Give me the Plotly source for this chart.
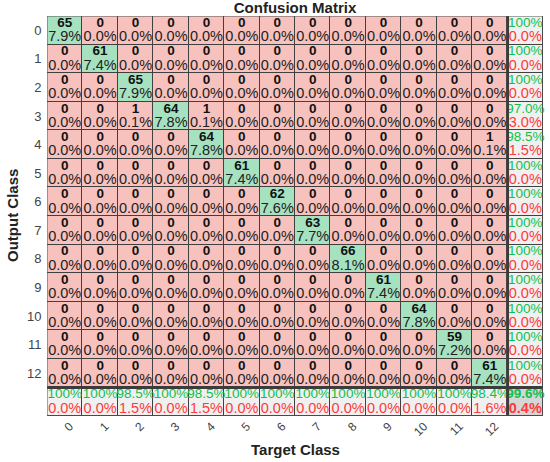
import plotly.graph_objects as go

classes = [str(i) for i in range(13)]
# confusion counts: rows = output class, columns = target class
counts = [
    [65, 0, 0, 0, 0, 0, 0, 0, 0, 0, 0, 0, 0],
    [0, 61, 0, 0, 0, 0, 0, 0, 0, 0, 0, 0, 0],
    [0, 0, 65, 0, 0, 0, 0, 0, 0, 0, 0, 0, 0],
    [0, 0, 1, 64, 1, 0, 0, 0, 0, 0, 0, 0, 0],
    [0, 0, 0, 0, 64, 0, 0, 0, 0, 0, 0, 0, 1],
    [0, 0, 0, 0, 0, 61, 0, 0, 0, 0, 0, 0, 0],
    [0, 0, 0, 0, 0, 0, 62, 0, 0, 0, 0, 0, 0],
    [0, 0, 0, 0, 0, 0, 0, 63, 0, 0, 0, 0, 0],
    [0, 0, 0, 0, 0, 0, 0, 0, 66, 0, 0, 0, 0],
    [0, 0, 0, 0, 0, 0, 0, 0, 0, 61, 0, 0, 0],
    [0, 0, 0, 0, 0, 0, 0, 0, 0, 0, 64, 0, 0],
    [0, 0, 0, 0, 0, 0, 0, 0, 0, 0, 0, 59, 0],
    [0, 0, 0, 0, 0, 0, 0, 0, 0, 0, 0, 0, 61],
]

n = len(classes)
total = sum(sum(r) for r in counts)


def fmt(p):
    if abs(p - 100) < 1e-9:
        return "100%"
    return "%.1f%%" % p


PINK = "#f7c1bd"
GREEN = "#a6e1c0"
GRAY = "#f0f0f0"
CORNER = "#d6d6d6"
TXT_G = "#10c04a"
TXT_R = "#ff3a3a"

# background category matrix
z = []
for i in range(n + 1):
    row = []
    for j in range(n + 1):
        if i == n and j == n:
            row.append(3)
        elif i == n or j == n:
            row.append(2)
        elif i == j:
            row.append(1)
        else:
            row.append(0)
    z.append(row)

cs = [[0, PINK], [0.25, PINK], [0.25, GREEN], [0.5, GREEN],
      [0.5, GRAY], [0.75, GRAY], [0.75, CORNER], [1, CORNER]]

fig = go.Figure()
fig.add_trace(go.Heatmap(
    z=z, x=list(range(n + 1)), y=list(range(n + 1)),
    colorscale=cs, zmin=-0.5, zmax=3.5, showscale=False,
    xgap=1, ygap=1, hoverinfo="skip"))

tx, ty, tt, tc = [], [], [], []   # top line
bx, by, bt, bc = [], [], [], []   # bottom line
for i in range(n):
    for j in range(n):
        c = counts[i][j]
        tx.append(j); ty.append(i - 0.24); tt.append("<b>%d</b>" % c); tc.append("#111111")
        bx.append(j); by.append(i + 0.255); bt.append(fmt(c / total * 100)); bc.append("#222222")
    rs = sum(counts[i])
    acc = counts[i][i] / rs * 100 if rs else 0
    tx.append(n); ty.append(i - 0.24); tt.append(fmt(acc)); tc.append(TXT_G)
    bx.append(n); by.append(i + 0.255); bt.append(fmt(100 - acc)); bc.append(TXT_R)
for j in range(n):
    cs_ = sum(counts[i][j] for i in range(n))
    acc = counts[j][j] / cs_ * 100 if cs_ else 0
    tx.append(j); ty.append(n - 0.24); tt.append(fmt(acc)); tc.append(TXT_G)
    bx.append(j); by.append(n + 0.255); bt.append(fmt(100 - acc)); bc.append(TXT_R)
diag = sum(counts[i][i] for i in range(n))
oacc = diag / total * 100
tx.append(n); ty.append(n - 0.24); tt.append("<b>%s</b>" % fmt(oacc)); tc.append(TXT_G)
bx.append(n); by.append(n + 0.255); bt.append("<b>%s</b>" % fmt(100 - oacc)); bc.append(TXT_R)

fig.add_trace(go.Scatter(x=tx, y=ty, text=tt, mode="text", cliponaxis=False,
                         textfont=dict(family="Liberation Sans, Arial", size=13.5, color=tc),
                         hoverinfo="skip", showlegend=False))
fig.add_trace(go.Scatter(x=bx, y=by, text=bt, mode="text", cliponaxis=False,
                         textfont=dict(family="Liberation Sans, Arial", size=14.5, color=bc),
                         hoverinfo="skip", showlegend=False))

# thick separators for summary row/column and outer border
line_c = "#3c3c3c"
fig.add_shape(type="line", x0=n - 0.5, x1=n - 0.5, y0=-0.5, y1=n + 0.5,
              xref="x", yref="y", line=dict(color=line_c, width=3))
fig.add_shape(type="line", x0=-0.5, x1=n + 0.5, y0=n - 0.5, y1=n - 0.5,
              xref="x", yref="y", line=dict(color=line_c, width=3))
fig.add_shape(type="rect", x0=-0.5, x1=n + 0.5, y0=-0.5, y1=n + 0.5,
              xref="x", yref="y", line=dict(color="#555555", width=1))

W, H = 550, 462
fig.update_layout(
    width=W, height=H,
    margin=dict(l=47, r=7, t=16, b=46, autoexpand=False),
    paper_bgcolor="white", plot_bgcolor="#404040",
    showlegend=False,
    font=dict(family="Liberation Sans, Arial", color="#333333"),
    title=dict(text="<b>Confusion Matrix</b>", x=295 / W, xref="container", xanchor="center",
               y=1 - 8 / H, yref="container", yanchor="middle",
               font=dict(size=15, color="#222222")),
    xaxis=dict(range=[-0.5, n + 0.5], tickmode="array", tickvals=list(range(n)),
               ticktext=classes, tickangle=-45, showgrid=False, zeroline=False,
               ticks="", ticklabelshift=5, automargin=False,
               tickfont=dict(size=12, color="#444444"), fixedrange=True),
    yaxis=dict(range=[n + 0.5, -0.5], tickmode="array", tickvals=list(range(n)),
               ticktext=classes, showgrid=False, zeroline=False,
               ticks="outside", ticklen=2, tickcolor="rgba(0,0,0,0)", automargin=False,
               tickfont=dict(size=13, color="#444444"), fixedrange=True),
    annotations=[
        dict(text="<b>Target Class</b>", xref="paper", yref="paper", x=0.5, y=0,
             xanchor="center", yanchor="middle", yshift=-33, showarrow=False,
             font=dict(size=15, color="#222222")),
        dict(text="<b>Output Class</b>", xref="paper", yref="paper", x=0, y=0.5,
             xanchor="center", yanchor="middle", xshift=-35, textangle=-90,
             showarrow=False, font=dict(size=15, color="#222222")),
    ],
)

# remove the default 8px page margin so the figure fills the window exactly
fig.write_html("out.html", config={"displayModeBar": False},
               post_script="document.body.style.margin='0px';")
